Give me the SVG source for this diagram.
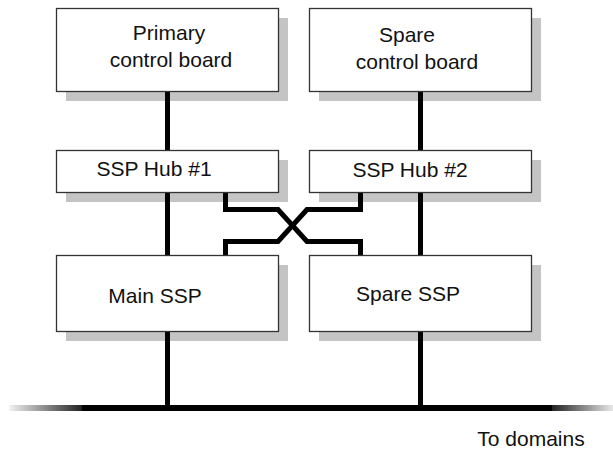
<svg xmlns="http://www.w3.org/2000/svg" width="613" height="450" viewBox="0 0 613 450">
<style>
.box{fill:#fff;stroke:#333;stroke-width:1.3}
.sh{fill:#c4c4c4}
.t{font-family:"Liberation Sans",Arial,sans-serif;font-size:21px;fill:#111;text-anchor:middle}
.w{fill:none;stroke:#000;stroke-width:5}
</style>
<defs>
<linearGradient id="gl" x1="0" x2="1" y1="0" y2="0">
<stop offset="0" stop-color="#f2f2f2"/>
<stop offset="1" stop-color="#222"/>
</linearGradient>
<linearGradient id="gr" x1="0" x2="1" y1="0" y2="0">
<stop offset="0" stop-color="#222"/>
<stop offset="1" stop-color="#e8e8e8"/>
</linearGradient>
</defs>
<g id="shadows">
<rect class="sh" x="66" y="18" width="222" height="83"/>
<rect class="sh" x="319" y="18" width="222" height="83"/>
<rect class="sh" x="66" y="160" width="222" height="42"/>
<rect class="sh" x="319" y="160" width="222" height="42"/>
<rect class="sh" x="66" y="265" width="222" height="76"/>
<rect class="sh" x="319" y="265" width="222" height="76"/>
</g>
<g id="connectors">
<line class="w" x1="167.5" y1="91" x2="167.5" y2="408"/>
<line class="w" x1="420.5" y1="91" x2="420.5" y2="408"/>
<polyline class="w" points="225.5,192 225.5,209.5 278,209.5 307,241.5 360.5,241.5 360.5,255"/>
<polyline class="w" points="360.5,192 360.5,209.5 307,209.5 278,241.5 225.5,241.5 225.5,255"/>
<rect x="9" y="405" width="73" height="6" fill="url(#gl)"/>
<rect x="82" y="405" width="470" height="6" fill="#000"/>
<rect x="552" y="405" width="61" height="6" fill="url(#gr)"/>
</g>
<g id="primary">
<rect class="box" x="56.5" y="8.5" width="222" height="83"/>
<text class="t" x="169" y="40">Primary</text>
<text class="t" x="171" y="67">control board</text>
</g>
<g id="spare">
<rect class="box" x="309.5" y="8.5" width="222" height="83"/>
<text class="t" x="407" y="42">Spare</text>
<text class="t" x="417" y="69">control board</text>
</g>
<g id="hub1">
<rect class="box" x="56.5" y="150.5" width="222" height="42"/>
<text class="t" x="154" y="176">SSP Hub #1</text>
</g>
<g id="hub2">
<rect class="box" x="309.5" y="150.5" width="222" height="42"/>
<text class="t" x="410" y="177">SSP Hub #2</text>
</g>
<g id="mainssp">
<rect class="box" x="56.5" y="255.5" width="222" height="76"/>
<text class="t" x="155" y="303">Main SSP</text>
</g>
<g id="sparessp">
<rect class="box" x="309.5" y="255.5" width="222" height="76"/>
<text class="t" x="408" y="301">Spare SSP</text>
</g>
<text class="t" x="531" y="446">To domains</text>
</svg>
